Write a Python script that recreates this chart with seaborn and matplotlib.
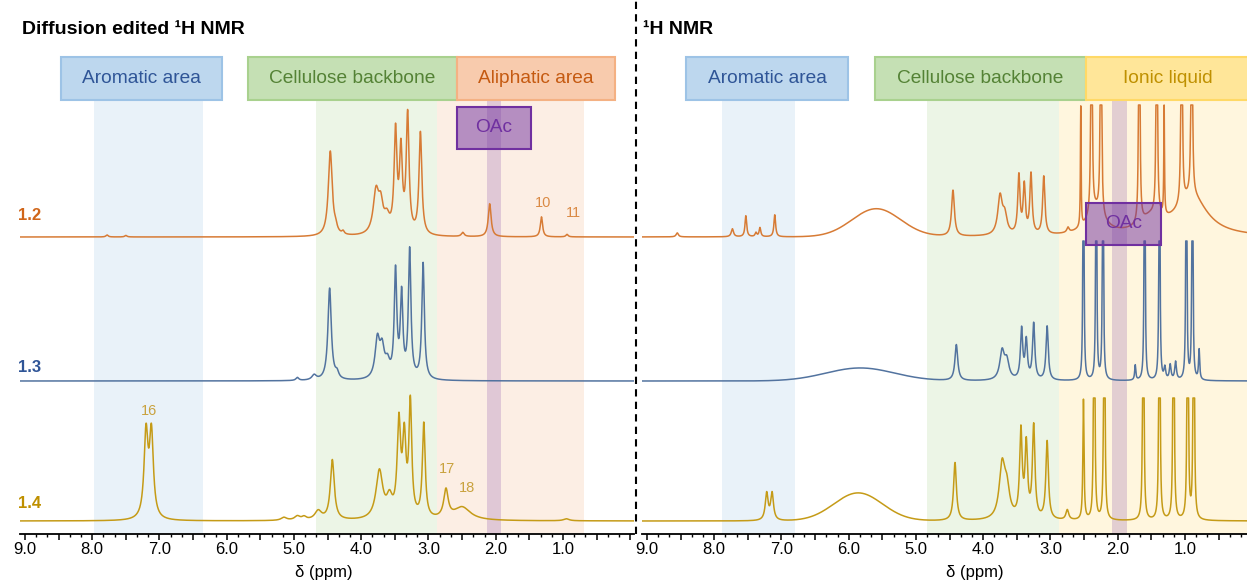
import numpy as np
import pandas as pd
import seaborn as sns
import matplotlib.pyplot as plt
from matplotlib.patches import Rectangle
from matplotlib.lines import Line2D
from matplotlib.ticker import MultipleLocator

# ---------------- data ----------------
SAMPLES = ["1.2", "1.3", "1.4"]

# peaks: (ppm, height, fwhm) lorentzian ; humps: (ppm, height, fwhm) gaussian
DIFF_12_PEAKS = [(7.78, 2, 0.04), (7.50, 1.5, 0.04), (4.38, 5, 0.05), (4.27, 3, 0.04),
                 (4.46, 85, 0.07), (3.78, 42, 0.10), (3.71, 25, 0.08), (3.62, 15, 0.10),
                 (3.49, 100, 0.05), (3.41, 80, 0.05), (3.31, 118, 0.05), (3.12, 102, 0.05),
                 (2.49, 4, 0.05), (2.09, 33, 0.05), (1.32, 20, 0.04), (0.94, 2.5, 0.04)]
DIFF_13_PEAKS = [(4.95, 3, 0.05), (4.70, 5, 0.08), (4.47, 92, 0.06), (4.36, 6, 0.06),
                 (3.76, 38, 0.08), (3.69, 28, 0.08), (3.61, 14, 0.08),
                 (3.49, 106, 0.045), (3.40, 82, 0.045), (3.28, 128, 0.045), (3.08, 116, 0.045)]
DIFF_14_PEAKS = [(7.20, 84, 0.07), (7.12, 84, 0.07), (5.15, 3, 0.1), (4.95, 4, 0.1),
                 (4.85, 3, 0.08), (4.64, 9, 0.12), (4.43, 60, 0.07), (3.73, 48, 0.12),
                 (3.58, 18, 0.10), (3.44, 92, 0.06), (3.36, 76, 0.06), (3.27, 112, 0.05),
                 (3.07, 94, 0.05), (2.74, 28, 0.08), (2.50, 13, 0.30), (0.95, 2, 0.10)]

FULL_12_PEAKS = [(8.55, 4, 0.04), (7.73, 8, 0.04), (7.53, 21, 0.03), (7.38, 4, 0.03),
                 (7.32, 9, 0.03), (7.10, 22, 0.03), (4.45, 46, 0.05), (3.75, 38, 0.08),
                 (3.68, 18, 0.08), (3.47, 58, 0.04), (3.39, 48, 0.04), (3.29, 60, 0.04),
                 (3.10, 58, 0.04), (2.74, 5, 0.04), (2.55, 120, 0.012), (2.39, 700, 0.012),
                 (2.25, 700, 0.012), (1.68, 700, 0.012), (1.42, 700, 0.012),
                 (1.31, 110, 0.012), (1.05, 700, 0.012), (0.90, 700, 0.012),
                 (2.33, 25, 0.30), (1.50, 15, 0.40), (0.90, 40, 0.55)]
FULL_12_HUMPS = [(5.59, 28, 0.85)]
FULL_13_PEAKS = [(4.40, 36, 0.05), (3.72, 28, 0.08), (3.65, 18, 0.08), (3.43, 50, 0.04),
                 (3.36, 38, 0.04), (3.25, 56, 0.04), (3.05, 54, 0.04), (2.51, 700, 0.010),
                 (2.32, 700, 0.010), (2.22, 700, 0.010), (1.74, 15, 0.02), (1.60, 700, 0.010),
                 (1.38, 700, 0.010), (1.30, 12, 0.03), (1.22, 15, 0.03), (1.14, 18, 0.03),
                 (0.98, 700, 0.010), (0.89, 700, 0.010), (0.79, 30, 0.02)]
FULL_13_HUMPS = [(5.83, 13, 1.2)]
FULL_14_PEAKS = [(7.22, 27, 0.05), (7.14, 27, 0.05), (4.42, 58, 0.05), (3.72, 52, 0.10),
                 (3.65, 28, 0.10), (3.44, 86, 0.045), (3.36, 72, 0.045), (3.25, 92, 0.045),
                 (3.05, 78, 0.045), (2.75, 10, 0.05), (2.51, 120, 0.02), (2.35, 700, 0.012),
                 (2.20, 700, 0.012), (1.62, 700, 0.012), (1.38, 700, 0.012),
                 (1.17, 700, 0.012), (0.96, 700, 0.012), (0.87, 700, 0.012)]
FULL_14_HUMPS = [(5.86, 28, 0.85)]

DIFF_PEAKS = {"1.2": (DIFF_12_PEAKS, []), "1.3": (DIFF_13_PEAKS, []), "1.4": (DIFF_14_PEAKS, [])}
FULL_PEAKS = {"1.2": (FULL_12_PEAKS, FULL_12_HUMPS), "1.3": (FULL_13_PEAKS, FULL_13_HUMPS),
              "1.4": (FULL_14_PEAKS, FULL_14_HUMPS)}

TICK_LABELS = ["9.0", "8.0", "7.0", "6.0", "5.0", "4.0", "3.0", "2.0", "1.0"]
TICK_VALUES = [9, 8, 7, 6, 5, 4, 3, 2, 1]

PEAK_LABELS_DIFF = [("10", 1.29, 331, "#DA8A45"), ("11", 0.84, 321, "#DA8A45"),
                    ("16", 7.16, 123, "#C9A23E"), ("17", 2.73, 65, "#C9A23E"),
                    ("18", 2.43, 46, "#C9A23E")]

# ---------------- style ----------------
sns.set_theme(style="white")
plt.rcParams['font.family'] = ['Liberation Sans', 'DejaVu Sans']

LINE_COLORS = {"1.2": "#D77B35", "1.3": "#52739F", "1.4": "#C59B17"}
LABEL_COLORS = {"1.2": "#D0661A", "1.3": "#2F5597", "1.4": "#BF9000"}
OFFSETS = {"1.2": 297, "1.3": 153, "1.4": 13}
FULL_CAPS = {"1.2": 429, "1.3": 293, "1.4": 136}

W, H = 1247, 583
fig = plt.figure(figsize=(W / 100, H / 100), dpi=100)
axL = fig.add_axes([20 / W, 49 / H, 614 / W, 534 / H])
axR = fig.add_axes([642 / W, 49 / H, 605 / W, 534 / H])

XLIM_L = (9.074, -0.056)
XLIM_R = (9.074, 0.078)


def spectrum(x, peaks, humps):
    y = np.zeros_like(x)
    for c, h, w in peaks:
        g = w / 2
        y += h * g * g / ((x - c) ** 2 + g * g)
    for c, h, w in humps:
        s = w / 2.355
        y += h * np.exp(-0.5 * ((x - c) / s) ** 2)
    return y


def style_axis(ax, xlim, label_x):
    ax.set_xlim(*xlim)
    ax.set_ylim(0, 534)
    for s in ("left", "top", "right"):
        ax.spines[s].set_visible(False)
    ax.spines["bottom"].set_color("black")
    ax.spines["bottom"].set_linewidth(1.3)
    ax.set_yticks([])
    ax.set_ylabel("")
    ax.xaxis.set_major_locator(MultipleLocator(0.5))
    ax.xaxis.set_minor_locator(MultipleLocator(1 / 6))
    ax.tick_params(axis="x", which="major", direction="out", length=4, width=1.1,
                   color="black", bottom=True, labelbottom=False)
    ax.tick_params(axis="x", which="minor", direction="out", length=2.5, width=1.0,
                   color="black", bottom=True)
    ax.grid(False)
    for v, t in zip(TICK_VALUES, TICK_LABELS):
        ax.text(v, -15, t, ha="center", va="center", fontsize=12, color="black",
                clip_on=False)
    ax.text(label_x, -39, "δ (ppm)", ha="center", va="center", fontsize=12,
            color="black", clip_on=False)
    ax.set_xlabel("")


def region(ax, col, box, face, edge, tcolor, text, ybox=(434, 477)):
    ax.axvspan(col[0], col[1], ymin=0, ymax=434 / 534, color=face, alpha=0.32,
               lw=0, zorder=0)
    r = Rectangle((min(box), ybox[0]), abs(box[0] - box[1]), ybox[1] - ybox[0],
                  facecolor=face, edgecolor=edge, lw=1.5, zorder=4, clip_on=False)
    ax.add_patch(r)
    ax.text((box[0] + box[1]) / 2, (ybox[0] + ybox[1]) / 2, text, ha="center",
            va="center", fontsize=13.8, color=tcolor, zorder=5, clip_on=False)


def oac(ax, stripe, box, ybox):
    ax.axvspan(stripe[0], stripe[1], ymin=0, ymax=434 / 534, color="#7030A0",
               alpha=0.2, lw=0, zorder=1)
    r = Rectangle((min(box), ybox[0]), abs(box[0] - box[1]), ybox[1] - ybox[0],
                  facecolor="#7030A0", alpha=0.5, edgecolor="none", zorder=6)
    ax.add_patch(r)
    r2 = Rectangle((min(box), ybox[0]), abs(box[0] - box[1]), ybox[1] - ybox[0],
                   facecolor="none", edgecolor="#7030A0", lw=1.5, zorder=6)
    ax.add_patch(r2)
    ax.text((box[0] + box[1]) / 2, (ybox[0] + ybox[1]) / 2, "OAc", ha="center",
            va="center", fontsize=13.8, color="#7030A0", zorder=7)


# regions
region(axL, (7.97, 6.35), (8.46, 6.07), "#BDD7EE", "#9DC3E6", "#2F5597", "Aromatic area")
region(axL, (4.67, 2.87), (5.68, 2.58), "#C5E0B4", "#A9D18E", "#548235", "Cellulose backbone")
region(axL, (2.87, 0.69), (2.58, 0.23), "#F8CBAD", "#F4B183", "#C55A11", "Aliphatic area")
oac(axL, (2.13, 1.92), (2.58, 1.48), (385, 427))

region(axR, (7.88, 6.80), (8.42, 6.01), "#BDD7EE", "#9DC3E6", "#2F5597", "Aromatic area")
region(axR, (4.84, 2.87), (5.61, 2.47), "#C5E0B4", "#A9D18E", "#548235", "Cellulose backbone")
region(axR, (2.87, 0.078), (2.47, 0.05), "#FFE699", "#FFD966", "#BF9000", "Ionic liquid")
oac(axR, (2.09, 1.86), (2.47, 1.36), (289, 331))

# spectra
for ax, xlim, table, caps in ((axL, XLIM_L, DIFF_PEAKS, None), (axR, XLIM_R, FULL_PEAKS, FULL_CAPS)):
    x = np.linspace(xlim[0], xlim[1], 12000)
    for s in SAMPLES:
        peaks, humps = table[s]
        y = spectrum(x, peaks, humps) + OFFSETS[s]
        if caps is not None:
            y = np.minimum(y, caps[s])
        df = pd.DataFrame({"ppm": x, "intensity": y})
        sns.lineplot(data=df, x="ppm", y="intensity", ax=ax, color=LINE_COLORS[s],
                     lw=1.1, sort=False, estimator=None, zorder=3)

style_axis(axL, XLIM_L, 4.55)
style_axis(axR, XLIM_R, 4.12)

# sample labels
for s, yv in zip(SAMPLES, (319, 166, 31)):
    axL.text(9.104, yv, s, ha="left", va="center", fontsize=12, fontweight="bold",
             color=LABEL_COLORS[s], clip_on=False)

for t, xv, yv, c in PEAK_LABELS_DIFF:
    axL.text(xv, yv, t, ha="center", va="center", fontsize=10.5, color=c)

# titles
fig.text(22 / W, 1 - 30 / H, "Diffusion edited ¹H NMR", ha="left", va="center",
         fontsize=14, fontweight="bold", color="black")
fig.text(643 / W, 1 - 30 / H, "¹H NMR", ha="left", va="center",
         fontsize=14, fontweight="bold", color="black")

# dashed separator
fig.add_artist(Line2D([636 / W, 636 / W], [49 / H, 1.0], transform=fig.transFigure,
                      color="black", lw=1.5, linestyle=(0, (3.5, 2.5))))

fig.savefig("out.png", dpi=100)
